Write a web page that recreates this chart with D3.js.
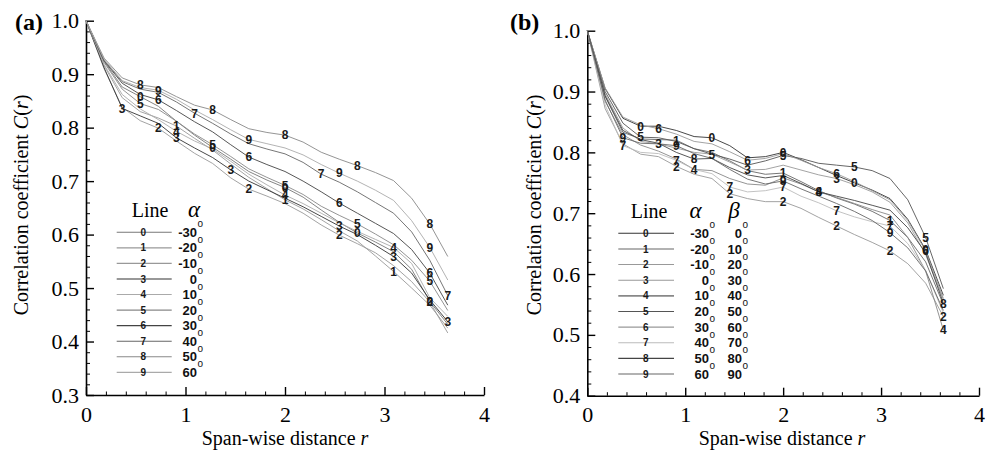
<!DOCTYPE html>
<html>
<head>
<meta charset="utf-8">
<script src="https://cdn.jsdelivr.net/npm/d3@7"></script>
<style>
  body { margin: 0; background: #fff; }
  svg { display: block; }
  .serif { font-family: "Liberation Serif", "Times New Roman", "DejaVu Serif", serif; }
  .sans { font-family: "Liberation Sans", Arial, "DejaVu Sans", sans-serif; }
</style>
</head>
<body>
<svg id="chart" width="990" height="453"></svg>
<script>
// Span-wise separation r at which the correlation is sampled
const spanR = [0, 0.182, 0.364, 0.545, 0.727, 0.909, 1.091, 1.273, 1.455, 1.636, 1.818,
               2.0, 2.182, 2.364, 2.545, 2.727, 2.909, 3.091, 3.273, 3.455, 3.636];

const lineIds = ["0", "1", "2", "3", "4", "5", "6", "7", "8", "9"];
const alphaDeg = ["-30", "-20", "-10", "0", "10", "20", "30", "40", "50", "60"];
const betaDeg = ["0", "10", "20", "30", "40", "50", "60", "70", "80", "90"];
const xTickValues = [0, 1, 2, 3, 4];
const yTickValuesA = [0.3, 0.4, 0.5, 0.6, 0.7, 0.8, 0.9, 1.0];
const yTickValuesB = [0.4, 0.5, 0.6, 0.7, 0.8, 0.9, 1.0];

// (a) correlation coefficient C(r), one array per line
const corrA0 = [1.0, 0.924, 0.876, 0.858, 0.840, 0.812, 0.786, 0.763, 0.741, 0.718, 0.702, 0.688, 0.670, 0.646, 0.623, 0.603, 0.586, 0.568, 0.535, 0.475, 0.432];
const corrA1 = [1.0, 0.916, 0.856, 0.830, 0.818, 0.803, 0.780, 0.758, 0.732, 0.707, 0.686, 0.665, 0.648, 0.628, 0.607, 0.588, 0.560, 0.531, 0.500, 0.468, 0.425];
const corrA2 = [1.0, 0.910, 0.838, 0.813, 0.799, 0.775, 0.752, 0.733, 0.706, 0.685, 0.672, 0.658, 0.640, 0.618, 0.599, 0.583, 0.566, 0.542, 0.512, 0.474, 0.416];
const corrA3 = [1.0, 0.912, 0.836, 0.822, 0.808, 0.781, 0.762, 0.744, 0.721, 0.700, 0.684, 0.668, 0.652, 0.634, 0.616, 0.600, 0.580, 0.559, 0.528, 0.478, 0.437];
const corrA4 = [1.0, 0.918, 0.862, 0.835, 0.815, 0.793, 0.775, 0.760, 0.737, 0.713, 0.693, 0.674, 0.658, 0.640, 0.622, 0.606, 0.591, 0.576, 0.546, 0.482, 0.447];
const corrA5 = [1.0, 0.922, 0.872, 0.845, 0.834, 0.812, 0.788, 0.768, 0.746, 0.723, 0.707, 0.692, 0.675, 0.653, 0.636, 0.620, 0.601, 0.581, 0.552, 0.513, 0.458];
const corrA6 = [1.0, 0.925, 0.883, 0.862, 0.852, 0.832, 0.811, 0.792, 0.768, 0.745, 0.731, 0.718, 0.700, 0.680, 0.659, 0.640, 0.621, 0.602, 0.572, 0.528, 0.468];
const corrA7 = [1.0, 0.926, 0.886, 0.872, 0.866, 0.848, 0.827, 0.808, 0.788, 0.770, 0.760, 0.751, 0.735, 0.713, 0.698, 0.680, 0.660, 0.640, 0.605, 0.552, 0.486];
const corrA8 = [1.0, 0.930, 0.893, 0.880, 0.875, 0.858, 0.842, 0.833, 0.815, 0.798, 0.791, 0.786, 0.773, 0.754, 0.741, 0.729, 0.716, 0.701, 0.668, 0.620, 0.559];
const corrA9 = [1.0, 0.928, 0.888, 0.875, 0.870, 0.853, 0.833, 0.815, 0.796, 0.778, 0.770, 0.762, 0.749, 0.731, 0.715, 0.700, 0.683, 0.664, 0.626, 0.576, 0.515];

// (b) correlation coefficient C(r), one array per line
const corrB0 = [1.0, 0.905, 0.856, 0.843, 0.843, 0.836, 0.826, 0.824, 0.811, 0.791, 0.793, 0.800, 0.788, 0.775, 0.762, 0.750, 0.738, 0.724, 0.690, 0.640, 0.565];
const corrB1 = [1.0, 0.892, 0.833, 0.822, 0.821, 0.820, 0.806, 0.800, 0.786, 0.770, 0.764, 0.766, 0.752, 0.737, 0.725, 0.715, 0.703, 0.688, 0.660, 0.620, 0.550];
const corrB2 = [1.0, 0.872, 0.814, 0.797, 0.793, 0.777, 0.764, 0.757, 0.732, 0.724, 0.719, 0.719, 0.708, 0.693, 0.679, 0.665, 0.652, 0.638, 0.617, 0.585, 0.530];
const corrB3 = [1.0, 0.896, 0.840, 0.818, 0.814, 0.807, 0.800, 0.797, 0.784, 0.771, 0.772, 0.779, 0.771, 0.763, 0.757, 0.747, 0.735, 0.718, 0.684, 0.632, 0.558];
const corrB4 = [1.0, 0.884, 0.829, 0.812, 0.802, 0.789, 0.772, 0.770, 0.757, 0.748, 0.746, 0.758, 0.748, 0.735, 0.726, 0.716, 0.706, 0.697, 0.660, 0.605, 0.508];
const corrB5 = [1.0, 0.900, 0.848, 0.825, 0.824, 0.818, 0.806, 0.797, 0.789, 0.779, 0.786, 0.795, 0.790, 0.782, 0.779, 0.776, 0.770, 0.757, 0.722, 0.660, 0.576];
const corrB6 = [1.0, 0.906, 0.858, 0.845, 0.839, 0.830, 0.818, 0.814, 0.801, 0.787, 0.790, 0.798, 0.787, 0.775, 0.765, 0.752, 0.737, 0.722, 0.688, 0.638, 0.560];
const corrB7 = [1.0, 0.878, 0.811, 0.800, 0.798, 0.787, 0.772, 0.765, 0.743, 0.735, 0.737, 0.743, 0.728, 0.717, 0.704, 0.694, 0.686, 0.679, 0.650, 0.606, 0.536];
const corrB8 = [1.0, 0.893, 0.836, 0.821, 0.815, 0.800, 0.789, 0.790, 0.775, 0.763, 0.758, 0.762, 0.749, 0.735, 0.728, 0.721, 0.713, 0.705, 0.676, 0.635, 0.552];
const corrB9 = [1.0, 0.886, 0.824, 0.815, 0.814, 0.811, 0.798, 0.790, 0.772, 0.756, 0.748, 0.753, 0.740, 0.728, 0.716, 0.703, 0.688, 0.668, 0.643, 0.605, 0.540];

// sample indices at which each line carries its number
const labelAtA = [
  [3, 7, 11, 15, 19], [5, 11, 17], [4, 9, 14, 19], [2, 5, 8, 14, 17, 20], [5, 11, 17],
  [3, 7, 11, 15, 19], [4, 9, 14, 19], [6, 13, 20], [3, 7, 11, 15, 19], [4, 9, 14, 19]
];
const labelAtB = [
  [3, 7, 11, 15, 19], [5, 11, 17], [5, 8, 11, 14, 17, 20], [4, 9, 14], [6, 13, 20],
  [3, 7, 11, 15, 19], [4, 9, 14, 19], [2, 5, 8, 11, 14, 17], [6, 13, 20], [2, 5, 11, 17]
];

// line shades
const greysA = ["#777", "#999", "#999", "#333", "#aaa", "#888", "#444", "#666", "#888", "#aaa"];
const greysB = ["#333", "#666", "#999", "#999", "#888", "#555", "#999", "#bbb", "#444", "#666"];

const svg = d3.select("#chart");

const panels = [
  {
    tag: "(a)", tagX: 15,
    series: [corrA0, corrA1, corrA2, corrA3, corrA4, corrA5, corrA6, corrA7, corrA8, corrA9],
    labelAt: labelAtA, greys: greysA,
    yDomain: [0.3, 1.0], yTicks: yTickValuesA,
    left: 86, right: 484, top: 20.7, bottom: 395,
    yTitleX: 27.5, yTitleY: 205, xTitleX: 285,
    legend: { x1: 116.7, x2: 171.7, numX: 143.3, y0: 232.3, dy: 15.56,
              alphaEnd: 197, betaEnd: null, headLine: 150, headAlpha: 194, headBeta: null, headY: 216.7 },
    beta: false
  },
  {
    tag: "(b)", tagX: 510,
    series: [corrB0, corrB1, corrB2, corrB3, corrB4, corrB5, corrB6, corrB7, corrB8, corrB9],
    labelAt: labelAtB, greys: greysB,
    yDomain: [0.4, 1.0], yTicks: yTickValuesB,
    left: 587.3, right: 979, top: 30.7, bottom: 395.7,
    yTitleX: 540.5, yTitleY: 205, xTitleX: 782,
    legend: { x1: 618.3, x2: 674, numX: 645.7, y0: 233.3, dy: 15.63,
              alphaEnd: 709, betaEnd: 742, headLine: 649, headAlpha: 695.5, headBeta: 734, headY: 218.3 },
    beta: true
  }
];

function drawPanel(p) {
  const g = svg.append("g");
  const x = d3.scaleLinear().domain([0, 4]).range([p.left, p.right]);
  const y = d3.scaleLinear().domain(p.yDomain).range([p.bottom, p.top]);

  // minor ticks
  const xMinor = d3.range(0, 4.0001, 0.2).filter(v => Math.abs(v - Math.round(v)) > 1e-6);
  const yMinor = d3.range(p.yDomain[0], p.yDomain[1] + 1e-6, 0.02)
    .filter(v => Math.abs(v * 10 - Math.round(v * 10)) > 1e-4);

  g.append("g").attr("transform", `translate(0,${p.bottom})`)
    .call(d3.axisBottom(x).tickValues(xMinor).tickSize(-3.5).tickFormat(""))
    .call(a => a.select(".domain").remove())
    .selectAll("line").attr("stroke", "#000").attr("stroke-width", 1);
  g.append("g").attr("transform", `translate(${p.left},0)`)
    .call(d3.axisLeft(y).tickValues(yMinor).tickSize(-4).tickFormat(""))
    .call(a => a.select(".domain").remove())
    .selectAll("line").attr("stroke", "#000").attr("stroke-width", 1);

  // major axes
  const xa = g.append("g").attr("transform", `translate(0,${p.bottom})`)
    .call(d3.axisBottom(x).tickValues(xTickValues).tickSize(-8).tickSizeOuter(0)
      .tickPadding(11).tickFormat(d3.format("d")));
  const ya = g.append("g").attr("transform", `translate(${p.left},0)`)
    .call(d3.axisLeft(y).tickValues(p.yTicks).tickSize(-8).tickSizeOuter(0)
      .tickPadding(7).tickFormat(d3.format(".1f")));
  [xa, ya].forEach(a => {
    a.attr("font-family", null).attr("font-size", null);
    a.select(".domain").attr("stroke", "#000").attr("stroke-width", 1.6);
    a.selectAll(".tick line").attr("stroke", "#000").attr("stroke-width", 1.4);
    a.selectAll(".tick text").attr("class", "serif").style("font-size", "22px").attr("fill", "#000");
  });

  // correlation curves
  const line = d3.line().x((d, i) => x(spanR[i])).y(d => y(d));
  g.append("g").selectAll("path").data(p.series).join("path")
    .attr("d", line)
    .attr("fill", "none")
    .attr("stroke", (d, i) => p.greys[i])
    .attr("stroke-width", 0.9);

  // line numbers placed on the curves
  const labelData = [];
  p.series.forEach((s, i) => p.labelAt[i].forEach(k => labelData.push({ id: lineIds[i], r: spanR[k], v: s[k] })));
  g.append("g").selectAll("text").data(labelData).join("text")
    .attr("class", "sans")
    .attr("x", d => x(d.r))
    .attr("y", d => y(d.v))
    .attr("dy", "0.36em")
    .attr("text-anchor", "middle")
    .style("font-weight", "bold")
    .style("font-size", "12px")
    .attr("fill", "#1a1a1a")
    .text(d => d.id);

  // legend
  const L = p.legend;
  const leg = g.append("g");
  leg.append("text").attr("class", "serif").attr("x", L.headLine).attr("y", L.headY)
    .attr("text-anchor", "middle").style("font-size", "20px").text("Line");
  leg.append("text").attr("class", "serif").attr("x", L.headAlpha).attr("y", L.headY)
    .attr("text-anchor", "middle").style("font-style", "italic").style("font-size", "23px").text("α");
  if (p.beta) {
    leg.append("text").attr("class", "serif").attr("x", L.headBeta).attr("y", L.headY)
      .attr("text-anchor", "middle").style("font-style", "italic").style("font-size", "23px").text("β");
  }
  lineIds.forEach((id, i) => {
    const yy = L.y0 + i * L.dy;
    leg.append("line").attr("x1", L.x1).attr("x2", L.x2).attr("y1", yy).attr("y2", yy)
      .attr("stroke", p.greys[i]).attr("stroke-width", i === 4 && p.beta ? 1.8 : 1.1);
    leg.append("text").attr("class", "sans").attr("x", L.numX).attr("y", yy).attr("dy", "0.36em")
      .attr("text-anchor", "middle").style("font-weight", "bold")
      .style("font-size", "10px").attr("fill", "#1a1a1a").text(id);
    const deg = (end, label) => {
      leg.append("text").attr("class", "sans").attr("x", end).attr("y", yy + 4.6)
        .attr("text-anchor", "end").style("font-weight", "bold")
        .style("font-size", "13px").attr("fill", "#111").text(label);
      leg.append("text").attr("class", "sans").attr("x", end + 0.5).attr("y", yy - 5)
        .style("font-size", "10px").attr("fill", "#111").text("o");
    };
    deg(L.alphaEnd, alphaDeg[i]);
    if (p.beta) deg(L.betaEnd, betaDeg[i]);
  });

  // axis titles
  const yt = g.append("text").attr("class", "serif")
    .attr("transform", `translate(${p.yTitleX},${p.yTitleY}) rotate(-90)`)
    .attr("text-anchor", "middle").style("font-size", "20px");
  yt.append("tspan").text("Correlation coefficient ");
  yt.append("tspan").style("font-style", "italic").text("C");
  yt.append("tspan").text("(");
  yt.append("tspan").style("font-style", "italic").text("r");
  yt.append("tspan").text(")");

  const xt = g.append("text").attr("class", "serif").attr("x", p.xTitleX).attr("y", 445)
    .attr("text-anchor", "middle").style("font-size", "20px");
  xt.append("tspan").text("Span-wise distance ");
  xt.append("tspan").style("font-style", "italic").text("r");

  // panel tag
  g.append("text").attr("class", "serif").attr("x", p.tagX).attr("y", 29.6)
    .style("font-weight", "bold").style("font-size", "24px").text(p.tag);
}

panels.forEach(drawPanel);
</script>
</body>
</html>
